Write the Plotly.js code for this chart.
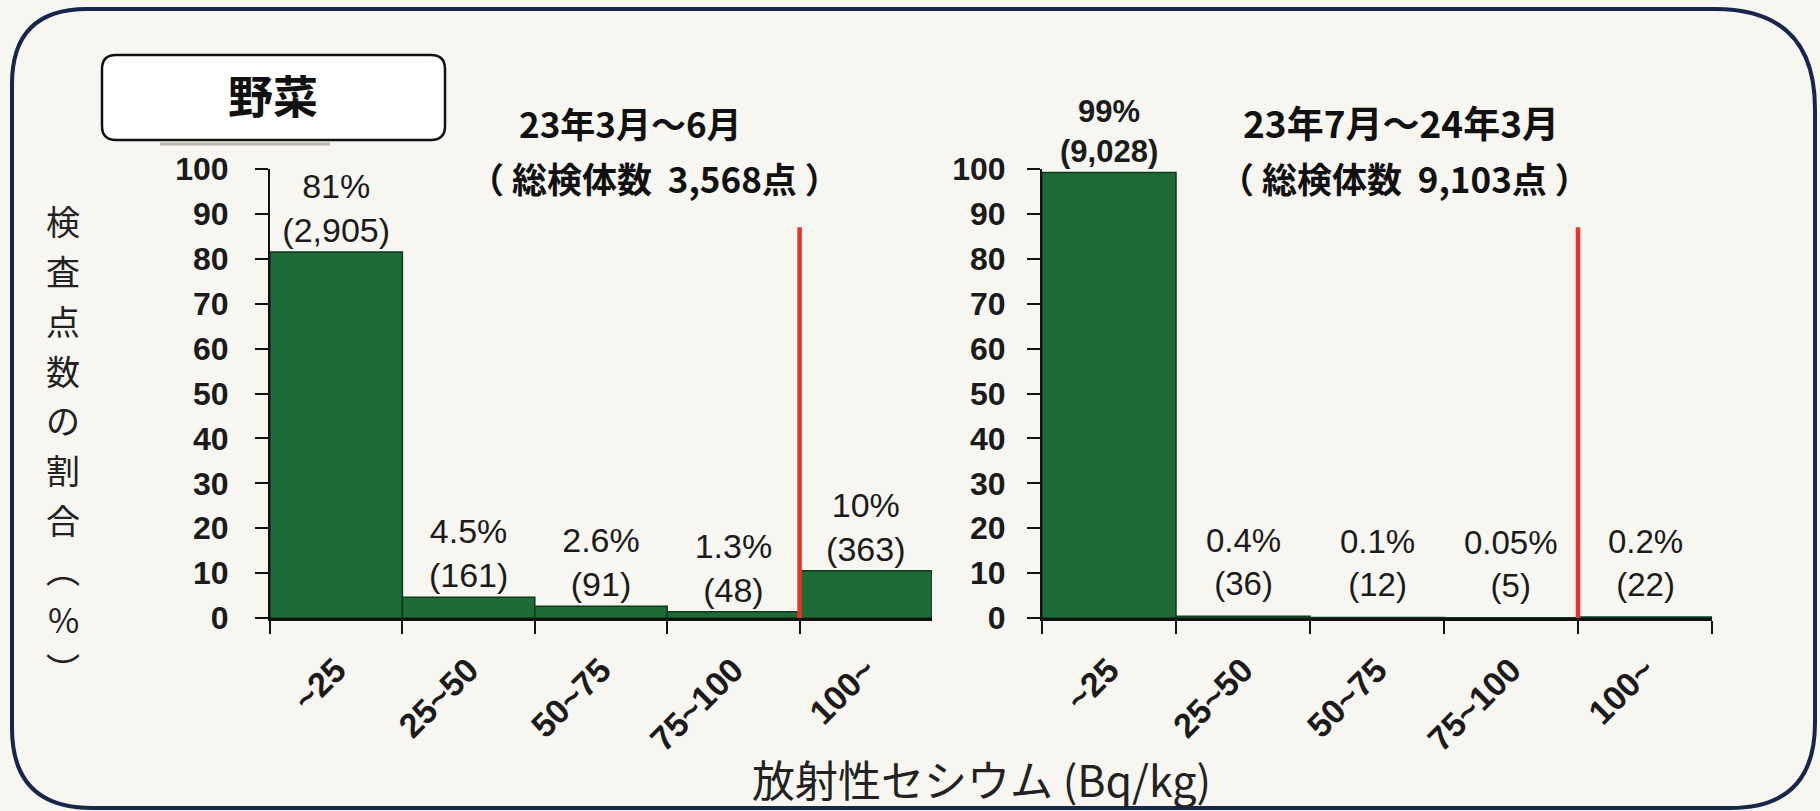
<!DOCTYPE html>
<html>
<head>
<meta charset="utf-8">
<script src="https://cdn.plot.ly/plotly-3.0.1.min.js"></script>
<style>
  html, body { margin: 0; padding: 0; background: #f7f6f1; }
  #chart { width: 1820px; height: 811px; }
</style>
</head>
<body>
<div id="chart"></div>
<script>
// ---------- data ----------
const categories = ['~25', '25~50', '50~75', '75~100', '100~'];

// 23年3月～6月
const leftValues = [81.5, 4.6, 2.6, 1.4, 10.5];
const leftPctLabels = ['81%', '4.5%', '2.6%', '1.3%', '10%'];
const leftCountLabels = ['2,905', '161', '91', '48', '363'];

// 23年7月～24年3月
const rightValues = [99.2, 0.4, 0.13, 0.05, 0.24];
const rightPctLabels = ['99%', '0.4%', '0.1%', '0.05%', '0.2%'];
const rightCountLabels = ['9,028', '36', '12', '5', '22'];

const periodTitles = ['23年3月～6月', '23年7月～24年3月'];
const totalTitles = ['（ 総検体数  3,568点 ）', '（ 総検体数  9,103点 ）'];
const categoryName = '野菜';
const yTitleChars = ['検', '査', '点', '数', 'の', '割', '合', '︵', '%', '︶'];
const xTitle = '放射性セシウム (Bq/kg)';
const limitBoundaryIndex = 3.5;   // boundary between 75~100 and 100~
const limitLineTop = 87;

// ---------- helpers ----------
const W = 1820, H = 811;
const px = x => x / W;
const py = y => 1 - y / H;
function roundRectPath(x0, y0, x1, y1, r) {
  // r = [tl, tr, br, bl] in pixels
  const P = (x, y) => px(x).toFixed(5) + ',' + py(y).toFixed(5);
  return 'M' + P(x0 + r[0], y0) +
    ' L' + P(x1 - r[1], y0) + ' Q' + P(x1, y0) + ' ' + P(x1, y0 + r[1]) +
    ' L' + P(x1, y1 - r[2]) + ' Q' + P(x1, y1) + ' ' + P(x1 - r[2], y1) +
    ' L' + P(x0 + r[3], y1) + ' Q' + P(x0, y1) + ' ' + P(x0, y1 - r[3]) +
    ' L' + P(x0, y0 + r[0]) + ' Q' + P(x0, y0) + ' ' + P(x0 + r[0], y0) + ' Z';
}

const SANS = '"Liberation Sans", Arial, sans-serif';
const CJK = '"Noto Sans CJK JP", "Noto Sans", sans-serif';
const barGreen = '#1f6b38';
const ink = '#1b1b1b';

const mkText = (p, c) => p.map((v, i) => v + '<br>(' + c[i] + ')');

const traces = [
  {
    type: 'bar', x: categories, y: leftValues, xaxis: 'x', yaxis: 'y',
    marker: { color: barGreen, line: { color: '#0e3a1c', width: 1.5 } },
    text: mkText(leftPctLabels, leftCountLabels),
    textposition: 'outside', textangle: 0, constraintext: 'none', cliponaxis: false,
    textfont: { family: SANS, size: 34, color: ink },
    hoverinfo: 'none'
  },
  {
    type: 'bar', x: categories, y: rightValues, xaxis: 'x2', yaxis: 'y2',
    marker: { color: barGreen, line: { color: '#0e3a1c', width: 1.5 } },
    cliponaxis: false, hoverinfo: 'none'
  }
];

const xAxisBase = {
  type: 'category', range: [-0.5, 4.5], fixedrange: true,
  showline: true, linecolor: '#111', linewidth: 2.5,
  ticks: 'outside', tickson: 'boundaries', ticklen: 13, tickwidth: 2, tickcolor: '#111',
  tickangle: -45, showgrid: false, zeroline: false, ticklabelstandoff: 16,
  tickfont: { family: SANS, size: 34, weight: 'bold', color: ink }
};
const yAxisBase = {
  range: [0, 100], dtick: 10, fixedrange: true,
  showline: true, linecolor: '#111', linewidth: 2,
  ticks: 'outside', ticklen: 13, tickwidth: 2, tickcolor: '#111',
  showgrid: false, zeroline: false,
  tickfont: { family: SANS, size: 32, weight: 'bold', color: ink },
  domain: [py(618), py(169)]
};

const annotations = [];
// right-chart value labels (anchored to the bars through the axes)
rightValues.forEach((v, i) => {
  const first = i === 0;
  annotations.push({ xref: 'x2', yref: 'y2', x: categories[i], y: v,
    text: rightPctLabels[i] + '<br>(' + rightCountLabels[i] + ')',
    showarrow: false, xanchor: 'center', yanchor: 'bottom', yshift: first ? 2 : 12,
    font: { family: SANS, size: first ? 31 : 33, weight: first ? 'bold' : 'normal', color: ink } });
});
// period titles
const titleX = [630, 1401];
const titleSizes = [35, 37];
periodTitles.forEach((t, i) => {
  annotations.push({ xref: 'paper', yref: 'paper', x: px(titleX[i]), y: py(122),
    text: '<b>' + t + '</b>', showarrow: false, xanchor: 'center', yanchor: 'middle',
    font: { family: CJK, size: titleSizes[i], color: '#111' } });
});
const totalX = [654, 1404];
totalTitles.forEach((t, i) => {
  annotations.push({ xref: 'paper', yref: 'paper', x: px(totalX[i]), y: py(178),
    text: '<b>' + t + '</b>', showarrow: false, xanchor: 'center', yanchor: 'middle',
    font: { family: CJK, size: 35, color: '#111' } });
});
// category box label
annotations.push({ xref: 'paper', yref: 'paper', x: px(273), y: py(94),
  text: '<b>' + categoryName + '</b>', showarrow: false, xanchor: 'center', yanchor: 'middle',
  font: { family: CJK, size: 45, color: '#111' } });
// vertical y title: one upright character per slot
const yTitleTop = 221, yTitleStep = 49.7;
yTitleChars.forEach((c, i) => {
  annotations.push({ xref: 'paper', yref: 'paper', x: px(63), y: py(yTitleTop + i * yTitleStep),
    text: c, showarrow: false, xanchor: 'center', yanchor: 'middle',
    font: { family: CJK, size: 34, color: '#222' } });
});
// x title
annotations.push({ xref: 'paper', yref: 'paper', x: px(981), y: 0,
  text: xTitle, showarrow: false, xanchor: 'center', yanchor: 'bottom',
  font: { family: CJK, size: 43, color: '#222' } });

const shapes = [
  // outer rounded frame
  { type: 'path', xref: 'paper', yref: 'paper', layer: 'below',
    path: roundRectPath(12, 9, 1815, 808, [75, 100, 85, 80]),
    line: { color: '#17264a', width: 4 }, fillcolor: 'rgba(0,0,0,0)' },
  // category box shadow
  { type: 'line', xref: 'paper', yref: 'paper', layer: 'below',
    x0: px(160), x1: px(330), y0: py(144), y1: py(144),
    line: { color: '#b9b6ad', width: 3 } },
  // category box
  { type: 'path', xref: 'paper', yref: 'paper', layer: 'below',
    path: roundRectPath(102, 55, 445, 140, [14, 14, 14, 14]),
    line: { color: '#111', width: 2.5 }, fillcolor: '#ffffff' },
  // limit lines
  { type: 'line', xref: 'x', yref: 'y', x0: limitBoundaryIndex, x1: limitBoundaryIndex,
    y0: 0, y1: limitLineTop, line: { color: '#e8342a', width: 4.5 } },
  { type: 'line', xref: 'x2', yref: 'y2', x0: limitBoundaryIndex, x1: limitBoundaryIndex,
    y0: 0, y1: limitLineTop, line: { color: '#e8342a', width: 4.5 } }
];

const layout = {
  width: W, height: H, autosize: false,
  margin: { l: 0, r: 0, t: 0, b: 0, pad: 0 },
  paper_bgcolor: '#f7f6f1', plot_bgcolor: 'rgba(0,0,0,0)',
  showlegend: false, bargap: 0,
  xaxis: Object.assign({}, xAxisBase, { domain: [px(270), px(932)], anchor: 'y' }),
  yaxis: Object.assign({}, yAxisBase, { anchor: 'x', ticklabelstandoff: 20 }),
  xaxis2: Object.assign({}, xAxisBase, { domain: [px(1042), px(1712)], anchor: 'y2' }),
  yaxis2: Object.assign({}, yAxisBase, { anchor: 'x2', ticklabelstandoff: 15 }),
  annotations: annotations,
  shapes: shapes
};

Plotly.newPlot('chart', traces, layout, { displayModeBar: false, staticPlot: true });
</script>
</body>
</html>
